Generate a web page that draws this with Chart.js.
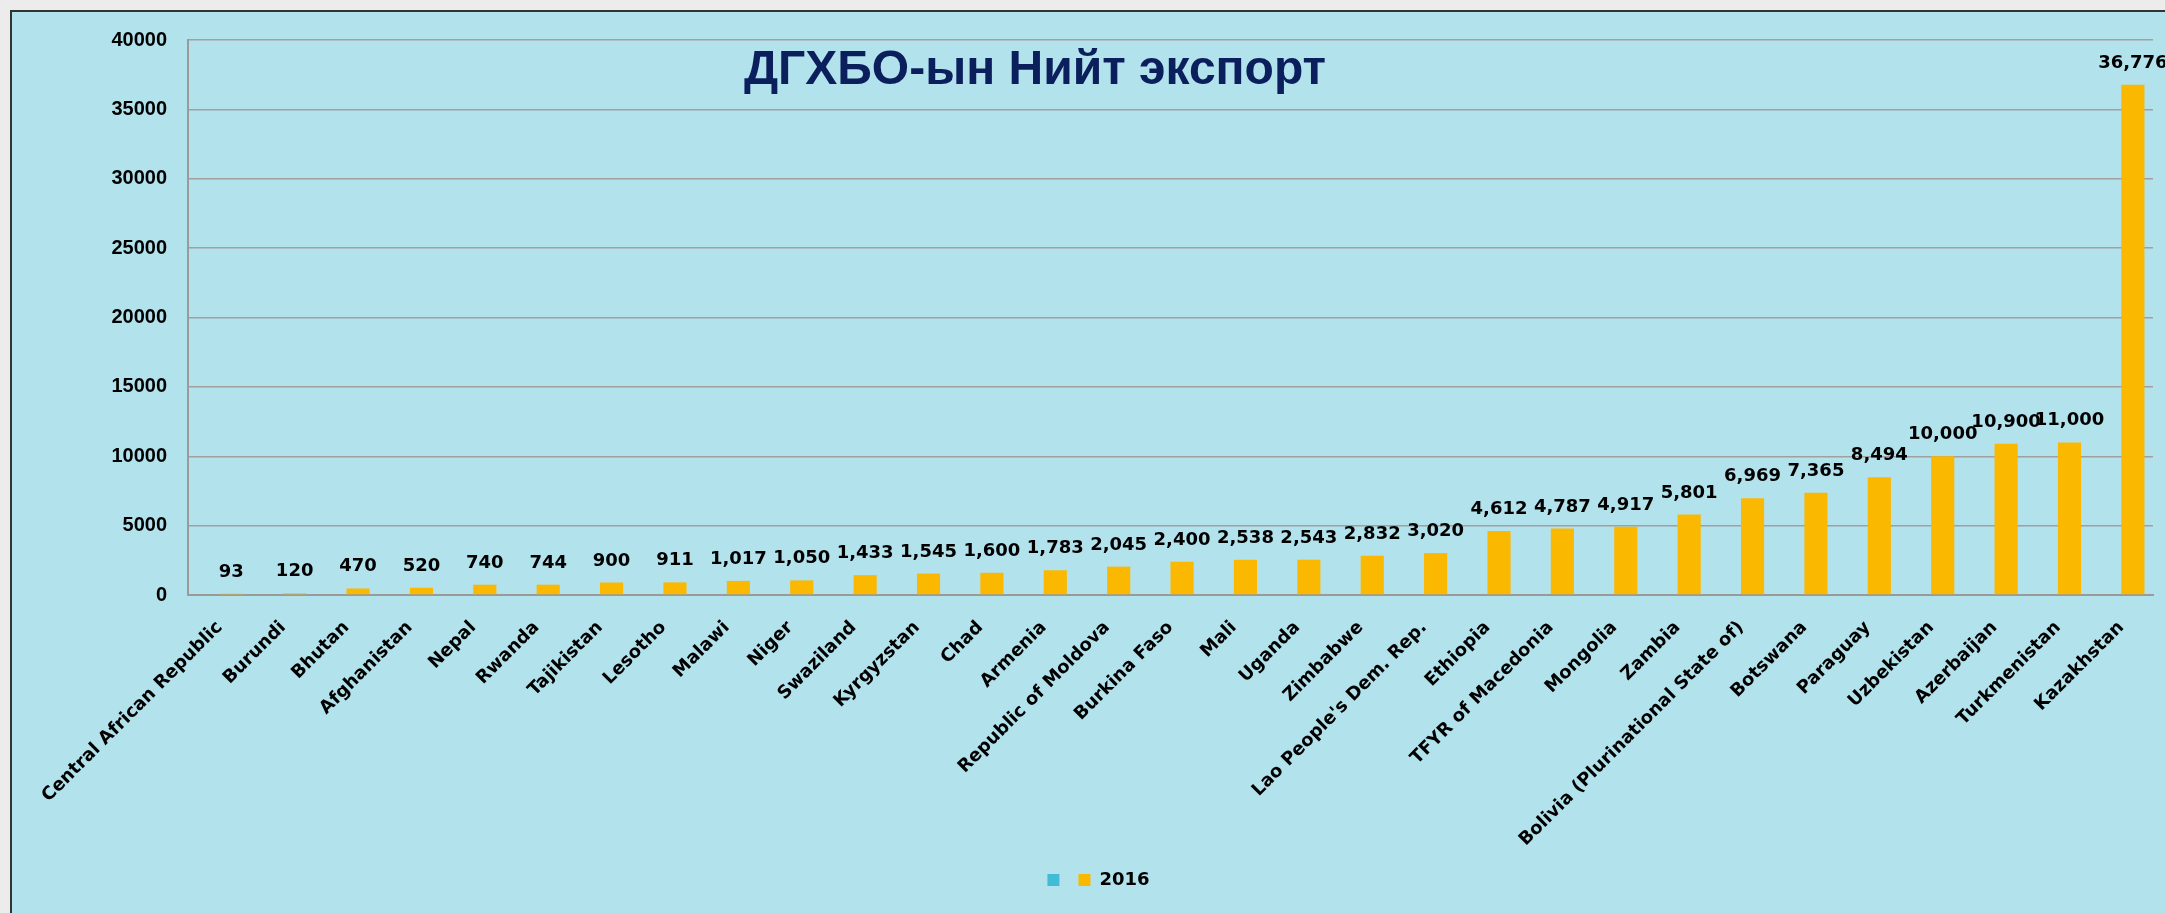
<!DOCTYPE html>
<html>
<head>
<meta charset="utf-8">
<script src="https://cdn.jsdelivr.net/npm/chart.js@4"></script>
<style>
  html, body { margin: 0; padding: 0; }
  body { width: 2165px; height: 913px; background: #ececec; overflow: hidden; position: relative; }
  #box {
    position: absolute; left: 10px; top: 10px; width: 2155px; height: 903px;
    border-top: 2px solid #333; border-left: 2px solid #333;
    background: #b2e2ec; box-sizing: border-box;
  }
  #wrap { position: relative; width: 2153px; height: 901px; }
</style>
</head>
<body>
<div id="box"><div id="wrap"><canvas id="chart"></canvas></div></div>
<script>
const categories = ['Central African Republic', 'Burundi', 'Bhutan', 'Afghanistan', 'Nepal', 'Rwanda', 'Tajikistan', 'Lesotho', 'Malawi', 'Niger', 'Swaziland', 'Kyrgyzstan', 'Chad', 'Armenia', 'Republic of Moldova', 'Burkina Faso', 'Mali', 'Uganda', 'Zimbabwe', "Lao People's Dem. Rep.", 'Ethiopia', 'TFYR of Macedonia', 'Mongolia', 'Zambia', 'Bolivia (Plurinational State of)', 'Botswana', 'Paraguay', 'Uzbekistan', 'Azerbaijan', 'Turkmenistan', 'Kazakhstan']
const values2016 = [93, 120, 470, 520, 740, 744, 900, 911, 1017, 1050, 1433, 1545, 1600, 1783, 2045, 2400, 2538, 2543, 2832, 3020, 4612, 4787, 4917, 5801, 6969, 7365, 8494, 10000, 10900, 11000, 36776]
const emptySeries = categories.map(() => null)
const yTicks = [0, 5000, 10000, 15000, 20000, 25000, 30000, 35000, 40000]
const titleText = 'ДГХБО-ын Нийт экспорт'

const labelFont = '"DejaVu Sans", sans-serif'

// value labels above the 2016 bars
const valueLabels = {
  id: 'valueLabels',
  afterDatasetsDraw(chart) {
    const ctx = chart.ctx
    const meta = chart.getDatasetMeta(1)
    ctx.save()
    ctx.font = 'bold 18px ' + labelFont
    ctx.fillStyle = '#000'
    ctx.textAlign = 'center'
    ctx.textBaseline = 'alphabetic'
    meta.data.forEach((bar, i) => {
      ctx.fillText(values2016[i].toLocaleString('en-US'), bar.x, bar.y - 17)
    })
    ctx.restore()
  }
}

const titleInside = {
  id: 'titleInside',
  afterDraw(chart) {
    const ctx = chart.ctx
    ctx.save()
    ctx.font = 'bold 48px "Liberation Sans", Arial, sans-serif'
    ctx.fillStyle = '#0b1f5c'
    ctx.textAlign = 'center'
    ctx.textBaseline = 'alphabetic'
    ctx.fillText(titleText, 1023, 72)
    ctx.restore()
  }
}

// nudge the legend a little to the right, like the original
const legendShift = {
  id: 'legendShift',
  beforeDraw(chart) {
    if (chart.legend && !chart.legend._shifted) {
      chart.legend.left += 16
      chart.legend.right += 16
      chart.legend._shifted = true
    }
  }
}

new Chart(document.getElementById('chart'), {
  type: 'bar',
  data: {
    labels: categories,
    datasets: [
      { label: '', data: emptySeries, backgroundColor: '#40bcd4' },
      { label: '2016', data: values2016, backgroundColor: '#fbb800' }
    ]
  },
  options: {
    responsive: true,
    maintainAspectRatio: false,
    animation: false,
    layout: { padding: { top: 28, right: 12, bottom: 14, left: 0 } },
    datasets: { bar: { barPercentage: 1, categoryPercentage: 0.73 } },
    scales: {
      x: {
        grid: { display: false },
        border: { display: true, color: '#9a9a9a', width: 2 },
        ticks: {
          autoSkip: false, minRotation: 45, maxRotation: 45, padding: 14,
          color: '#000', font: { family: labelFont, weight: 'bold', size: 18 }
        },
        afterFit(scale) { scale.height = 266; scale.paddingTop = 0 }
      },
      y: {
        min: 0, max: 40000,
        afterBuildTicks(scale) { scale.ticks = yTicks.map(v => ({ value: v })) },
        grid: { color: '#a0a0a0', lineWidth: 1.5, drawTicks: false, tickLength: 0 },
        border: { display: true, color: '#9a9a9a', width: 2 },
        ticks: {
          padding: 21, color: '#000',
          font: { family: '"Liberation Sans", Arial, sans-serif', weight: 'bold', size: 20 },
          callback: v => String(v)
        },
        afterFit(scale) { scale.width = 176; scale.paddingTop = 0 }
      }
    },
    plugins: {
      tooltip: { enabled: false },
      title: { display: false },
      legend: {
        position: 'bottom',
        labels: {
          boxWidth: 12, boxHeight: 12, padding: 10, color: '#000',
          font: { family: labelFont, weight: 'bold', size: 18 }
        }
      }
    }
  },
  plugins: [valueLabels, titleInside, legendShift]
})
</script>
</body>
</html>
